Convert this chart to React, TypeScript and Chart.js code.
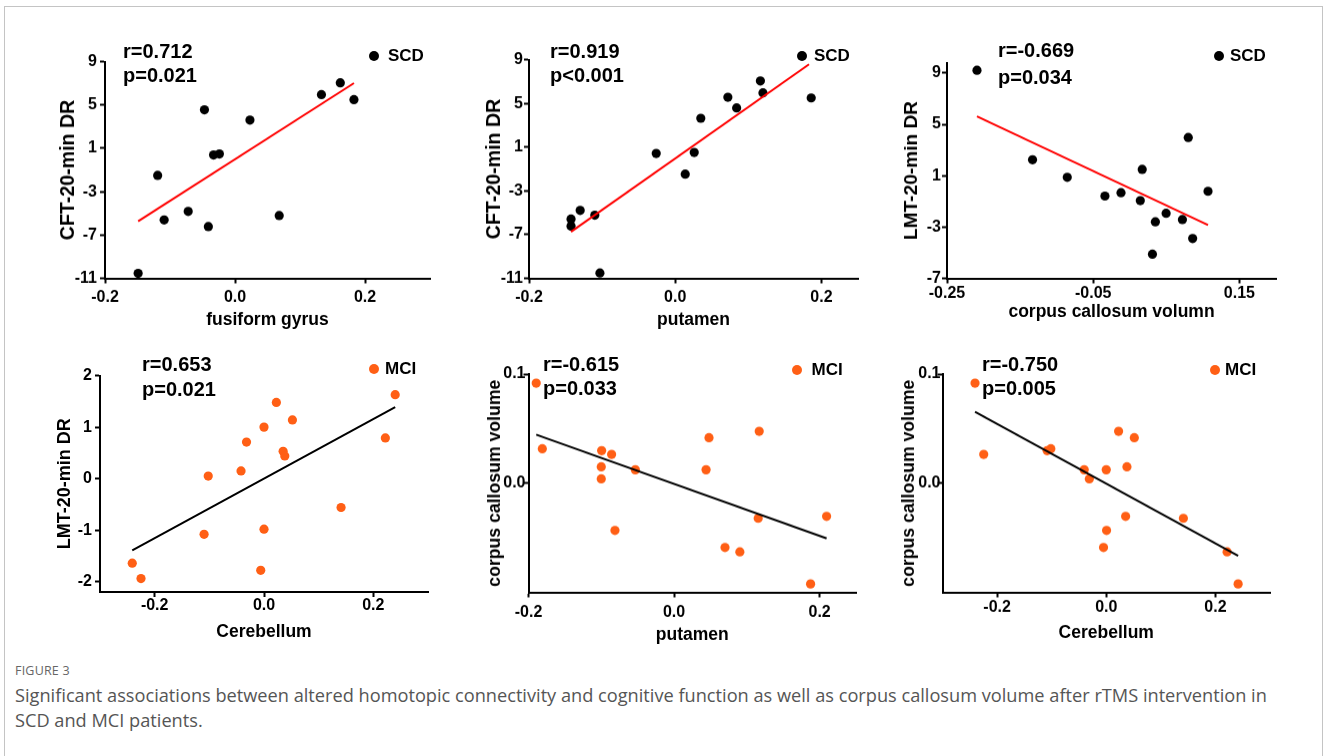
import React, { useEffect, useRef } from "react";
import { Chart, registerables } from "chart.js";

Chart.register(...registerables);

// ---------------- DATA ----------------
// Panel 1: SCD, fusiform gyrus vs CFT-20-min DR
const p1X = [-0.149, -0.119, -0.109, -0.072, -0.047, -0.041, -0.033, -0.024, 0.023, 0.068, 0.133, 0.162, 0.183];
const p1Y = [-10.54, -1.5, -5.61, -4.82, 4.56, -6.22, 0.39, 0.48, 3.61, -5.2, 5.96, 7.05, 5.5];
const p1FitX = [-0.149, 0.183];
const p1FitY = [-5.73, 7.02];

// Panel 2: SCD, putamen vs CFT-20-min DR
const p2X = [-0.1425, -0.1425, -0.13, -0.11, -0.103, -0.026, 0.0137, 0.026, 0.035, 0.072, 0.084, 0.1165, 0.12, 0.186];
const p2Y = [-5.58, -6.22, -4.79, -5.22, -10.51, 0.42, -1.47, 0.51, 3.64, 5.56, 4.59, 7.05, 5.96, 5.5];
const p2FitX = [-0.1425, 0.183];
const p2FitY = [-6.74, 8.57];

// Panel 3: SCD, corpus callosum volumn vs LMT-20-min DR
const p3X = [-0.209, -0.133, -0.0855, -0.034, -0.012, 0.0144, 0.017, 0.035, 0.031, 0.0497, 0.072, 0.08, 0.086, 0.107];
const p3Y = [9.21, 2.24, 0.87, -0.59, -0.33, -0.95, 1.49, -2.6, -5.12, -1.93, -2.42, 3.97, -3.9, -0.22];
const p3FitX = [-0.209, 0.107];
const p3FitY = [5.61, -2.84];

// Panel 4: MCI, Cerebellum vs LMT-20-min DR
const p4X = [-0.241, -0.225, -0.1096, -0.102, -0.042, -0.032, 0.0, 0.0, -0.006, 0.0226, 0.035, 0.038, 0.052, 0.141, 0.222, 0.24];
const p4Y = [-1.64, -1.94, -1.08, 0.05, 0.15, 0.71, 1.0, -0.98, -1.78, 1.48, 0.53, 0.44, 1.14, -0.56, 0.79, 1.63];
const p4FitX = [-0.241, 0.24];
const p4FitY = [-1.39, 1.39];

// Panel 5: MCI, putamen vs corpus callosum volume
const p5X = [-0.1894, -0.181, -0.0995, -0.0858, -0.1, -0.1, -0.0532, -0.0812, 0.044, 0.048, 0.07, 0.0904, 0.117, 0.1156, 0.1876, 0.2096];
const p5Y = [0.0917, 0.0316, 0.0298, 0.0264, 0.015, 0.004, 0.0123, -0.0433, 0.0123, 0.0417, -0.0589, -0.0629, 0.0475, -0.0322, -0.0923, -0.0304];
const p5FitX = [-0.1894, 0.2096];
const p5FitY = [0.0445, -0.0506];

// Panel 6: MCI, Cerebellum vs corpus callosum volume
const p6X = [-0.2404, -0.2245, -0.1083, -0.1015, -0.0404, -0.031, 0.0, 0.0006, -0.005, 0.0226, 0.0379, 0.0355, 0.0514, 0.1413, 0.2214, 0.2416];
const p6Y = [0.0917, 0.0264, 0.0298, 0.0316, 0.0123, 0.004, 0.0123, -0.0433, -0.0589, 0.0475, 0.015, -0.0304, 0.0417, -0.0322, -0.0629, -0.0923];
const p6FitX = [-0.2404, 0.2416];
const p6FitY = [0.0653, -0.0666];

// Tick labels
const xTicksA = [-0.2, 0, 0.2];
const xTicksB = [-0.25, -0.05, 0.15];
const yTicksSCD = [-11, -7, -3, 1, 5, 9];
const yTicksLMT = [-7, -3, 1, 5, 9];
const yTicksMCI = [-2, -1, 0, 1, 2];
const yTicksCC = [0, 0.1];

// Text
const groupNames = ["SCD", "MCI"];
const rTexts = ["r=0.712", "r=0.919", "r=-0.669", "r=0.653", "r=-0.615", "r=-0.750"];
const pTexts = ["p=0.021", "p<0.001", "p=0.034", "p=0.021", "p=0.033", "p=0.005"];
const xTitles = ["fusiform gyrus", "putamen", "corpus callosum volumn", "Cerebellum", "putamen", "Cerebellum"];
const yTitles = ["CFT-20-min DR", "CFT-20-min DR", "LMT-20-min DR", "LMT-20-min DR", "corpus callosum volume", "corpus callosum volume"];
const figureLabel = "FIGURE 3";
const captionLines = [
  "Significant associations between altered homotopic connectivity and cognitive function as well as corpus callosum volume after rTMS intervention in",
  "SCD and MCI patients.",
];

// ---------------- STYLE / LAYOUT ----------------
const FONT = "'Liberation Sans', Arial, sans-serif";
const SCD_COLOR = "#000000";
const MCI_COLOR = "#FF5F15";
const RED = "#FF0000";

type Panel = {
  xs: number[]; ys: number[]; fx: number[]; fy: number[];
  group: number; lineColor: string;
  xMin: number; xMax: number; yMin: number; yMax: number;
  xTicks: number[]; yTicks: number[]; xDec: number; yDec: number;
  L: number; T: number; R: number; B: number;
  wy: number; hx: number; yPad: number; xPad: number; yTitleSize: number;
  annX: number; annY1: number; annY2: number;
  legDotX: number; legTextX: number; legY: number;
};

const panels: Panel[] = [
  { xs: p1X, ys: p1Y, fx: p1FitX, fy: p1FitY, group: 0, lineColor: RED,
    xMin: -0.2, xMax: 0.3, yMin: -11, yMax: 9, xTicks: xTicksA, yTicks: yTicksSCD, xDec: 1, yDec: 0,
    L: 105, T: 59, R: 430, B: 278, wy: 52, hx: 56.5, yPad: 3, xPad: 4, yTitleSize: 19.5,
    annX: 123, annY1: 51, annY2: 75, legDotX: 374, legTextX: 388, legY: 55.5 },
  { xs: p2X, ys: p2Y, fx: p2FitX, fy: p2FitY, group: 0, lineColor: RED,
    xMin: -0.2, xMax: 0.25, yMin: -11, yMax: 9, xTicks: xTicksA, yTicks: yTicksSCD, xDec: 1, yDec: 0,
    L: 529, T: 59, R: 858, B: 278, wy: 50, hx: 56.5, yPad: 1, xPad: 4, yTitleSize: 19.5,
    annX: 550, annY1: 51, annY2: 75, legDotX: 801.5, legTextX: 814, legY: 55.5 },
  { xs: p3X, ys: p3Y, fx: p3FitX, fy: p3FitY, group: 0, lineColor: RED,
    xMin: -0.25, xMax: 0.2, yMin: -7, yMax: 9.8, xTicks: xTicksB, yTicks: yTicksLMT, xDec: 2, yDec: 0,
    L: 947, T: 62, R: 1276, B: 278, wy: 51, hx: 48.5, yPad: 1, xPad: 0.5, yTitleSize: 19,
    annX: 998, annY1: 50, annY2: 76.5, legDotX: 1219, legTextX: 1230, legY: 55.5 },
  { xs: p4X, ys: p4Y, fx: p4FitX, fy: p4FitY, group: 1, lineColor: "#000000",
    xMin: -0.3, xMax: 0.3, yMin: -2.2, yMax: 2, xTicks: xTicksA, yTicks: yTicksMCI, xDec: 1, yDec: 0,
    L: 100, T: 373, R: 428, B: 592, wy: 50, hx: 55, yPad: 3, xPad: -1, yTitleSize: 18,
    annX: 142, annY1: 363.5, annY2: 388.5, legDotX: 374, legTextX: 385, legY: 369 },
  { xs: p5X, ys: p5Y, fx: p5FitX, fy: p5FitY, group: 1, lineColor: "#000000",
    xMin: -0.2, xMax: 0.25, yMin: -0.1, yMax: 0.1, xTicks: xTicksA, yTicks: yTicksCC, xDec: 1, yDec: 1,
    L: 528, T: 374, R: 856, B: 592, wy: 47.5, hx: 57.5, yPad: -2, xPad: 5.5, yTitleSize: 17.6,
    annX: 543, annY1: 363.5, annY2: 387.5, legDotX: 796.5, legTextX: 811.5, legY: 370 },
  { xs: p6X, ys: p6Y, fx: p6FitX, fy: p6FitY, group: 1, lineColor: "#000000",
    xMin: -0.3, xMax: 0.3, yMin: -0.1, yMax: 0.1, xTicks: xTicksA, yTicks: yTicksCC, xDec: 1, yDec: 1,
    L: 942, T: 374, R: 1270, B: 592, wy: 47.5, hx: 55.5, yPad: -3, xPad: 0, yTitleSize: 17.6,
    annX: 982, annY1: 363.5, annY2: 387.5, legDotX: 1215, legTextX: 1225, legY: 370 },
];

const PAD_TOP = 10;
const PAD_RIGHT = 10;

function ScatterPanel({ p, idx }: { p: Panel; idx: number }) {
  const ref = useRef<HTMLCanvasElement | null>(null);
  const width = p.R - p.L + p.wy + PAD_RIGHT;
  const height = p.B - p.T + PAD_TOP + p.hx;

  useEffect(() => {
    if (!ref.current) return;
    const color = p.group === 0 ? SCD_COLOR : MCI_COLOR;
    const pts = p.xs.map((x, i) => ({ x, y: p.ys[i] }));
    const fit = p.fx.map((x, i) => ({ x, y: p.fy[i] }));
    const chart = new Chart(ref.current, {
      type: "scatter",
      data: {
        datasets: [
          {
            type: "line",
            data: fit,
            borderColor: p.lineColor,
            borderWidth: 2,
            pointRadius: 0,
            showLine: true,
            fill: false,
          } as any,
          {
            data: pts,
            pointRadius: 4.6,
            pointBackgroundColor: color,
            pointBorderWidth: 0,
            backgroundColor: color,
            borderColor: color,
            clip: false,
          } as any,
        ],
      },
      options: {
        responsive: false,
        animation: false,
        layout: { padding: { top: PAD_TOP, right: PAD_RIGHT, left: 0, bottom: 0 } },
        plugins: { legend: { display: false }, tooltip: { enabled: false } },
        scales: {
          x: {
            type: "linear",
            min: p.xMin,
            max: p.xMax,
            afterBuildTicks: (s: any) => { s.ticks = p.xTicks.map((v) => ({ value: v })); },
            afterFit: (s: any) => { s.height = p.hx; },
            ticks: {
              color: "#000",
              font: { family: FONT, size: 16, weight: "bold" },
              padding: p.xPad,
              maxRotation: 0,
              callback: (v: any) => Number(v).toFixed(p.xDec),
            },
            grid: { drawOnChartArea: false, drawTicks: true, tickLength: 5, tickColor: "#000", tickWidth: 2 },
            border: { display: true, color: "#000", width: 2 },
            title: {
              display: true,
              text: xTitles[idx],
              color: "#000",
              font: { family: FONT, size: 17.5, weight: "bold" },
              padding: { top: 4, bottom: 4 },
            },
          },
          y: {
            type: "linear",
            min: p.yMin,
            max: p.yMax,
            afterBuildTicks: (s: any) => { s.ticks = p.yTicks.map((v) => ({ value: v })); },
            afterFit: (s: any) => { s.width = p.wy; },
            ticks: {
              color: "#000",
              font: { family: FONT, size: 16, weight: "bold" },
              padding: p.yPad,
              callback: (v: any) => Number(v).toFixed(p.yDec),
            },
            grid: { drawOnChartArea: false, drawTicks: true, tickLength: 5, tickColor: "#000", tickWidth: 2 },
            border: { display: true, color: "#000", width: 2 },
            title: {
              display: true,
              text: yTitles[idx],
              color: "#000",
              font: { family: FONT, size: p.yTitleSize, weight: "bold" },
              padding: { top: 4, bottom: 4 },
            },
          },
        },
      } as any,
    });
    return () => chart.destroy();
  }, [p, idx]);

  const color = p.group === 0 ? SCD_COLOR : MCI_COLOR;
  const annStyle: React.CSSProperties = {
    position: "absolute",
    left: p.annX,
    fontFamily: FONT,
    fontWeight: "bold",
    fontSize: 20,
    lineHeight: "20px",
    color: "#000",
    whiteSpace: "nowrap",
  };
  return (
    <>
      <canvas
        ref={ref}
        width={width}
        height={height}
        style={{ position: "absolute", left: p.L - p.wy, top: p.T - PAD_TOP, width, height }}
      />
      <div style={{ ...annStyle, top: p.annY1 - 10 }}>{rTexts[idx]}</div>
      <div style={{ ...annStyle, top: p.annY2 - 10 }}>{pTexts[idx]}</div>
      <div
        style={{
          position: "absolute",
          left: p.legDotX - 5,
          top: p.legY - 5,
          width: 10,
          height: 10,
          borderRadius: "50%",
          background: color,
        }}
      />
      <div
        style={{
          position: "absolute",
          left: p.legTextX,
          top: p.legY - 10,
          fontFamily: FONT,
          fontWeight: "bold",
          fontSize: 17,
          lineHeight: "20px",
          color: "#000",
          whiteSpace: "nowrap",
        }}
      >
        {groupNames[p.group]}
      </div>
    </>
  );
}

export default function App() {
  return (
    <div style={{ position: "absolute", left: 0, top: 0, width: 1328, height: 756, background: "#fff", overflow: "hidden" }}>
      <div
        style={{
          position: "absolute",
          left: 4,
          top: 6,
          width: 1319,
          height: 800,
          border: "1px solid #c4c4c4",
          boxSizing: "border-box",
        }}
      />
      {panels.map((p, i) => (
        <ScatterPanel key={i} p={p} idx={i} />
      ))}
      <div
        style={{
          position: "absolute",
          left: 15,
          top: 663,
          fontFamily: "'Open Sans', 'Noto Sans', sans-serif",
          fontSize: 12.5,
          lineHeight: "16px",
          color: "#666",
          letterSpacing: 0.2,
        }}
      >
        {figureLabel}
      </div>
      <div
        style={{
          position: "absolute",
          left: 15,
          top: 682.5,
          fontFamily: "'Open Sans', 'Noto Sans', sans-serif",
          fontSize: 18.2,
          lineHeight: "25px",
          color: "#555",
          whiteSpace: "nowrap",
        }}
      >
        {captionLines.map((t, i) => (
          <div key={i}>{t}</div>
        ))}
      </div>
    </div>
  );
}
